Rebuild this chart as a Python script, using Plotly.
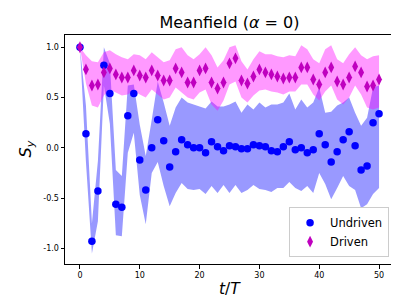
import plotly.graph_objects as go

t = list(range(51))

undriven = [1.0, 0.14, -0.93, -0.43, 0.82, 0.54, -0.56, -0.59, 0.32, 0.54,
            -0.12, -0.42, 0.0, 0.28, 0.07, -0.19, -0.04, 0.08, 0.03, 0.0,
            0.0, -0.05, 0.06, 0.01, -0.03, 0.02, 0.01, -0.01, -0.01, 0.03,
            0.02, 0.01, -0.03, -0.04, 0.01, 0.06, -0.02, 0.0, -0.05, -0.02,
            0.14, 0.03, -0.14, -0.04, 0.08, 0.16, 0.02, -0.22, -0.18, 0.25, 0.34]
undriven_upper = [1.0, 0.42, -0.75, -0.13, 1.00, 0.84, -0.22, -0.28, 0.62, 0.63,
                  0.23, -0.08, 0.28, 0.66, 0.45, 0.22, 0.40, 0.50, 0.45, 0.43,
                  0.41, 0.39, 0.46, 0.41, 0.41, 0.43, 0.46, 0.35, 0.43, 0.38,
                  0.45, 0.40, 0.43, 0.43, 0.45, 0.54, 0.38, 0.48, 0.40, 0.45,
                  0.60, 0.35, 0.36, 0.42, 0.45, 0.50, 0.35, 0.22, 0.30, 0.60, 0.62]
undriven_lower = [1.0, -0.14, -1.05, -0.73, 0.62, 0.24, -0.87, -0.88, -0.05, 0.15,
                  -0.47, -0.76, -0.25, -0.14, -0.38, -0.58, -0.45, -0.35, -0.41, -0.42,
                  -0.41, -0.46, -0.38, -0.45, -0.37, -0.45, -0.37, -0.45, -0.42, -0.37,
                  -0.41, -0.42, -0.44, -0.40, -0.40, -0.34, -0.40, -0.43, -0.38, -0.45,
                  -0.25, -0.36, -0.51, -0.40, -0.28, -0.38, -0.42, -0.60, -0.56, -0.46, -0.40]

driven = [1.0, 0.78, 0.62, 0.63, 0.75, 0.79, 0.73, 0.70, 0.70, 0.77,
          0.72, 0.70, 0.77, 0.72, 0.67, 0.67, 0.79, 0.75, 0.65, 0.65,
          0.77, 0.79, 0.65, 0.59, 0.65, 0.84, 0.89, 0.67, 0.64, 0.71,
          0.78, 0.75, 0.73, 0.71, 0.69, 0.70, 0.70, 0.80, 0.80, 0.68,
          0.63, 0.75, 0.80, 0.66, 0.63, 0.70, 0.81, 0.75, 0.61, 0.62, 0.68]
driven_upper = [1.0, 0.92, 0.86, 0.85, 0.95, 0.97, 0.93, 0.90, 0.88, 0.93,
                0.92, 0.88, 0.95, 0.90, 0.85, 0.87, 0.98, 1.00, 0.92, 0.88,
                0.93, 1.00, 0.92, 0.80, 0.87, 1.00, 1.02, 0.86, 0.78, 0.88,
                0.96, 0.93, 0.93, 0.91, 0.90, 0.92, 0.91, 1.02, 0.98, 0.88,
                0.84, 0.98, 1.02, 0.88, 0.84, 0.93, 1.00, 0.92, 0.88, 0.91, 0.92]
driven_lower = [1.0, 0.64, 0.42, 0.40, 0.52, 0.58, 0.55, 0.52, 0.53, 0.57,
                0.53, 0.50, 0.58, 0.53, 0.48, 0.50, 0.60, 0.55, 0.50, 0.48,
                0.55, 0.58, 0.43, 0.37, 0.47, 0.63, 0.66, 0.50, 0.45, 0.52,
                0.57, 0.58, 0.56, 0.55, 0.53, 0.56, 0.56, 0.63, 0.63, 0.53,
                0.47, 0.56, 0.62, 0.48, 0.43, 0.50, 0.62, 0.53, 0.40, 0.38, 0.40]

x_ticks = [0, 10, 20, 30, 40, 50]
y_ticks = [-1.0, -0.5, 0.0, 0.5, 1.0]

FONT = "DejaVu Sans"
fig = go.Figure()

fig.add_trace(go.Scatter(
    x=t + t[::-1], y=undriven_upper + undriven_lower[::-1],
    fill="toself", fillcolor="rgba(0,0,255,0.4)", line=dict(width=0),
    mode="lines", showlegend=False, hoverinfo="skip"))
fig.add_trace(go.Scatter(
    x=t + t[::-1], y=driven_upper + driven_lower[::-1],
    fill="toself", fillcolor="rgba(255,0,255,0.4)", line=dict(width=0),
    mode="lines", showlegend=False, hoverinfo="skip"))
fig.add_trace(go.Scatter(
    x=t, y=undriven, mode="markers", name="Undriven",
    marker=dict(symbol="circle", size=7.5, color="#0000ff", line=dict(width=0))))
fig.add_trace(go.Scatter(
    x=t, y=driven, mode="markers", name="Driven",
    marker=dict(symbol="diamond-tall", size=8.5, color="#bf00bf", line=dict(width=0))))

axis_common = dict(
    showgrid=False, zeroline=False, showline=True, linecolor="black", linewidth=1,
    mirror=True, ticks="outside", ticklen=3.5, tickwidth=0.8, tickcolor="black",
    tickfont=dict(family=FONT, size=8, color="black"))

fig.update_xaxes(range=[-2.5, 52.5], tickvals=x_ticks,
                 ticktext=[str(v) for v in x_ticks], **axis_common)
fig.update_yaxes(range=[-1.155, 1.122], tickvals=y_ticks,
                 ticktext=["%.1f" % v for v in y_ticks], **axis_common)

fig.update_layout(
    width=399, height=299,
    margin=dict(l=57, r=13, t=27, b=42.5),
    paper_bgcolor="white", plot_bgcolor="white",
    font=dict(family=FONT, color="black"),
    title=dict(text="Meanfield (<i>α</i> = 0)", x=0.555, xanchor="center",
               y=1 - 14 / 299, yanchor="middle",
               font=dict(family=FONT, size=16, color="black")),
    legend=dict(x=0.985, y=0.03, xanchor="right", yanchor="bottom",
                bgcolor="rgba(255,255,255,0.8)", bordercolor="#cccccc", borderwidth=1,
                font=dict(family=FONT, size=11.5, color="black"),
                tracegroupgap=2),
    showlegend=True,
    annotations=[
        dict(text="<i>t</i>/<i>T</i>", xref="paper", yref="paper", x=0.5, y=-0.107,
             xanchor="center", yanchor="middle", showarrow=False,
             font=dict(family=FONT, size=15.5, color="black")),
        dict(text="<i>S</i><sub><i>y</i></sub>", xref="paper", yref="paper",
             x=-0.1185, y=0.5, xanchor="center", yanchor="middle", textangle=-90,
             showarrow=False, font=dict(family=FONT, size=16, color="black")),
    ],
)

fig.write_html("out.html")
